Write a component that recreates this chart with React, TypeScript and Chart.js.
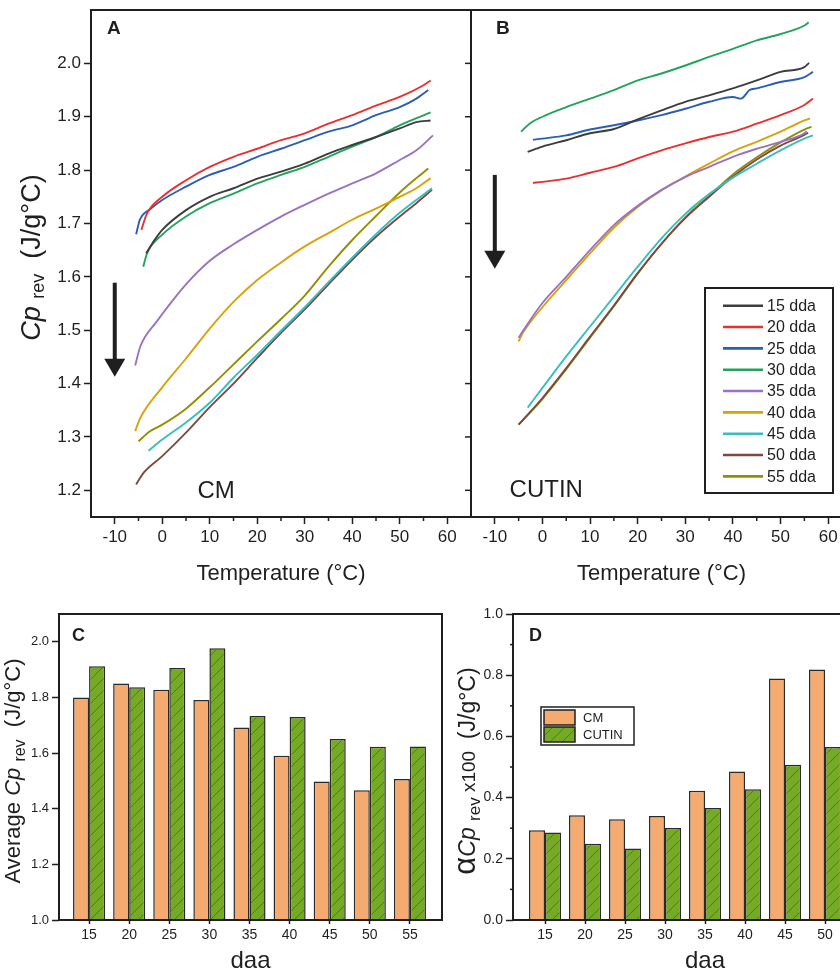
import React, { useEffect, useRef } from 'react';
import { Chart, registerables } from 'chart.js';

Chart.register(...registerables);

const INK = '#1f1f1f';
const FONT = '"Liberation Sans", Arial, Helvetica, sans-serif';

// ---------- Panels A / B : Cp_rev vs temperature ----------
const ddaLabels = ['15 dda', '20 dda', '25 dda', '30 dda', '35 dda', '40 dda', '45 dda', '50 dda', '55 dda'];
const lineColors = ['#3d3d3d', '#e8312f', '#2b5fb4', '#23a35b', '#9a72c2', '#d9a10a', '#3bbdbd', '#7b4a42', '#8f8f0a'];

const tempTicks = [-10, 0, 10, 20, 30, 40, 50, 60];
const tempMinor = [-5, 5, 15, 25, 35, 45, 55];
const cpTicks = [1.2, 1.3, 1.4, 1.5, 1.6, 1.7, 1.8, 1.9, 2.0];
const T_MIN = -15, T_MAX = 65, CP_MIN = 1.15, CP_MAX = 2.1;

// CM curves: [temperature °C, Cp_rev J/g°C]
const cm15 = [[-3.4, 1.644], [-2, 1.664], [0, 1.688], [5, 1.725], [10, 1.750], [15, 1.766], [20, 1.784], [25, 1.797], [30, 1.812], [35, 1.831], [40, 1.847], [45, 1.862], [50, 1.878], [53.5, 1.890], [56.5, 1.893]];
const cm20 = [[-4.4, 1.688], [-3.2, 1.719], [0, 1.750], [5, 1.781], [10, 1.806], [15, 1.825], [20, 1.840], [25, 1.856], [30, 1.869], [35, 1.887], [40, 1.903], [45, 1.921], [50, 1.937], [55, 1.959], [56.5, 1.968]];
const cm25 = [[-5.5, 1.680], [-4.7, 1.707], [-2.5, 1.727], [0, 1.744], [5, 1.769], [10, 1.791], [15, 1.806], [20, 1.825], [25, 1.840], [30, 1.856], [35, 1.872], [40, 1.884], [45, 1.903], [50, 1.918], [53.5, 1.934], [56, 1.950]];
const cm30 = [[-4, 1.619], [-3.2, 1.644], [0, 1.679], [5, 1.713], [10, 1.738], [15, 1.756], [20, 1.775], [25, 1.791], [30, 1.806], [35, 1.825], [40, 1.844], [45, 1.862], [50, 1.884], [56.5, 1.908]];
const cm35 = [[-5.7, 1.434], [-4.6, 1.470], [-1.1, 1.517], [2.3, 1.557], [5, 1.586], [10, 1.630], [15, 1.661], [20, 1.688], [25, 1.713], [30, 1.735], [35, 1.756], [40, 1.775], [45, 1.794], [50, 1.819], [53.5, 1.837], [57, 1.865]];
const cm40 = [[-5.7, 1.311], [-4.6, 1.336], [0, 1.393], [5, 1.447], [10, 1.503], [15, 1.553], [20, 1.594], [25, 1.627], [30, 1.657], [35, 1.682], [40, 1.707], [45, 1.728], [50, 1.750], [53.5, 1.766], [56.5, 1.785]];
const cm45 = [[-2.9, 1.274], [0, 1.295], [5, 1.327], [10, 1.364], [15, 1.411], [20, 1.454], [25, 1.499], [30, 1.543], [35, 1.590], [40, 1.636], [45, 1.680], [50, 1.720], [56.8, 1.766]];
const cm50 = [[-5.5, 1.211], [-3.9, 1.233], [0, 1.264], [5, 1.308], [10, 1.356], [15, 1.400], [20, 1.448], [25, 1.495], [30, 1.539], [35, 1.586], [40, 1.632], [45, 1.675], [50, 1.713], [53.5, 1.738], [56.8, 1.763]];
const cm55 = [[-5, 1.292], [-2.5, 1.311], [0, 1.323], [5, 1.353], [10, 1.393], [15, 1.436], [20, 1.479], [25, 1.521], [30, 1.565], [35, 1.619], [40, 1.669], [45, 1.714], [50, 1.758], [53.5, 1.785], [56, 1.803]];

// CUTIN curves
const cu15 = [[-3.1, 1.834], [0, 1.844], [5, 1.856], [10, 1.869], [15, 1.877], [20, 1.895], [25, 1.912], [30, 1.928], [35, 1.940], [40, 1.953], [45, 1.968], [50, 1.984], [55, 1.993], [56, 2.001]];
const cu20 = [[-2, 1.776], [0, 1.778], [5, 1.784], [10, 1.795], [15, 1.806], [20, 1.822], [25, 1.837], [30, 1.850], [35, 1.862], [40, 1.872], [45, 1.887], [50, 1.903], [55, 1.922], [56.8, 1.934]];
const cu25 = [[-2, 1.857], [0, 1.859], [5, 1.865], [10, 1.876], [15, 1.884], [20, 1.893], [25, 1.903], [30, 1.915], [35, 1.928], [40, 1.937], [41.7, 1.934], [43.5, 1.950], [45, 1.953], [50, 1.965], [55, 1.974], [56.8, 1.984]];
const cu30 = [[-4.5, 1.872], [-2.7, 1.887], [0, 1.900], [5, 1.918], [10, 1.934], [15, 1.950], [20, 1.968], [25, 1.981], [30, 1.996], [35, 2.012], [40, 2.027], [45, 2.043], [50, 2.055], [55, 2.071], [55.9, 2.077]];
const cu35 = [[-5, 1.486], [-4, 1.500], [0, 1.551], [5, 1.600], [10, 1.650], [15, 1.697], [20, 1.733], [25, 1.763], [30, 1.787], [35, 1.806], [40, 1.825], [45, 1.840], [50, 1.853], [55, 1.869], [55.5, 1.873]];
const cu40 = [[-5, 1.479], [-4.1, 1.495], [0, 1.543], [5, 1.594], [10, 1.644], [15, 1.692], [20, 1.731], [25, 1.762], [30, 1.788], [35, 1.812], [40, 1.835], [45, 1.853], [50, 1.872], [55, 1.893], [56.2, 1.897]];
const cu45 = [[-3.1, 1.355], [0, 1.392], [5, 1.451], [10, 1.507], [15, 1.563], [20, 1.619], [25, 1.672], [30, 1.718], [35, 1.755], [40, 1.786], [45, 1.812], [50, 1.837], [55, 1.859], [56.8, 1.865]];
const cu50 = [[-5, 1.323], [0, 1.373], [5, 1.429], [10, 1.488], [15, 1.546], [20, 1.607], [25, 1.662], [30, 1.710], [35, 1.750], [40, 1.788], [45, 1.820], [50, 1.846], [55, 1.866], [55.8, 1.870]];
const cu55 = [[-5, 1.323], [0, 1.371], [5, 1.427], [10, 1.486], [15, 1.545], [20, 1.606], [25, 1.662], [30, 1.712], [35, 1.752], [40, 1.792], [45, 1.824], [50, 1.852], [55, 1.876], [56.5, 1.881]];

const cmCurves = [cm15, cm20, cm25, cm30, cm35, cm40, cm45, cm50, cm55];
const cutinCurves = [cu15, cu20, cu25, cu30, cu35, cu40, cu45, cu50, cu55];

// ---------- Panels C / D : bars ----------
const daa = [15, 20, 25, 30, 35, 40, 45, 50, 55];
const avgCM = [1.800, 1.850, 1.828, 1.791, 1.692, 1.590, 1.498, 1.466, 1.507];
const avgCUTIN = [1.912, 1.837, 1.906, 1.977, 1.733, 1.730, 1.651, 1.623, 1.624];
const alphaCM = [0.293, 0.342, 0.329, 0.340, 0.422, 0.485, 0.789, 0.819];
const alphaCUTIN = [0.286, 0.249, 0.234, 0.301, 0.366, 0.427, 0.507, 0.565];
const avgTicks = [1.0, 1.2, 1.4, 1.6, 1.8, 2.0];
const alphaTicks = [0, 0.2, 0.4, 0.6, 0.8, 1.0];
const alphaMinor = [0.1, 0.3, 0.5, 0.7, 0.9];
const AVG_MIN = 1.0, AVG_MAX = 2.1, ALPHA_MIN = 0, ALPHA_MAX = 1.0;
const DAA_MIN_C = 11.25, DAA_MIN_D = 11, DAA_MAX = 59;

const CM_COLOR = '#f5aa70';
const CUTIN_COLOR = '#74aa25';
const HATCH_COLOR = '#4c7f16';

function fontStr(size: number, style = 'normal', weight = 'normal') {
  return `${style} ${weight} ${size}px ${FONT}`;
}

function makeHatch(): any {
  const step = 12;
  const c = document.createElement('canvas');
  c.width = step; c.height = step;
  const g = c.getContext('2d')!;
  g.fillStyle = CUTIN_COLOR; g.fillRect(0, 0, step, step);
  g.strokeStyle = HATCH_COLOR; g.lineWidth = 1;
  g.beginPath();
  g.moveTo(0, step); g.lineTo(step, 0);
  g.moveTo(-2, 2); g.lineTo(2, -2);
  g.moveTo(step - 2, step + 2); g.lineTo(step + 2, step - 2);
  g.stroke();
  return g.createPattern(c, 'repeat');
}

const decorPlugin = {
  id: 'decor',
  afterDraw(chart: any, _args: any, o: any) {
    const ctx = chart.ctx as CanvasRenderingContext2D;
    const a = chart.chartArea;
    const xs = chart.scales.x, ys = chart.scales.y;
    ctx.save();
    ctx.strokeStyle = INK; ctx.fillStyle = INK;
    const seg = (x1: number, y1: number, x2: number, y2: number, w: number) => {
      ctx.lineWidth = w; ctx.beginPath(); ctx.moveTo(x1, y1); ctx.lineTo(x2, y2); ctx.stroke();
    };
    (o.minorX || []).forEach((v: number) => {
      const p = xs.getPixelForValue(v); seg(p, a.bottom, p, a.bottom + o.minorLen, 1.5);
    });
    (o.minorY || []).forEach((v: number) => {
      const p = ys.getPixelForValue(v); seg(a.left - o.minorLen, p, a.left, p, 1.5);
    });
    (o.mirrorY || []).forEach((v: number) => {
      const p = ys.getPixelForValue(v); seg(a.right - o.mirrorLen, p, a.right, p, 1.5);
    });
    ctx.strokeStyle = INK;
    ctx.lineWidth = o.frameWidth;
    ctx.strokeRect(a.left, a.top, a.right - a.left, a.bottom - a.top);

    (o.arrows || []).forEach((ar: any) => {
      const x = xs.getPixelForValue(ar.x);
      const y1 = ys.getPixelForValue(ar.from);
      const y2 = ys.getPixelForValue(ar.to);
      seg(x, y1, x, y2 - ar.headLen + 1, ar.shaft);
      ctx.beginPath();
      ctx.moveTo(x - ar.headWidth / 2, y2 - ar.headLen);
      ctx.lineTo(x + ar.headWidth / 2, y2 - ar.headLen);
      ctx.lineTo(x, y2);
      ctx.closePath(); ctx.fill();
    });

    ctx.textAlign = 'left'; ctx.textBaseline = 'alphabetic';
    (o.notes || []).forEach((n: any) => {
      ctx.font = fontStr(n.size);
      ctx.fillText(n.text, xs.getPixelForValue(n.x), ys.getPixelForValue(n.y));
    });
    if (o.panel) {
      ctx.font = fontStr(o.panel.size, 'normal', 'bold');
      ctx.fillText(o.panel.text, a.left + o.panel.dx, a.top + o.panel.dy);
    }

    if (o.yTitle) {
      const t = o.yTitle;
      ctx.save();
      ctx.translate(a.left - t.offset, (a.top + a.bottom) / 2 + t.shift);
      ctx.rotate(-Math.PI / 2);
      let total = 0;
      const widths = t.segs.map((s: any) => {
        ctx.font = fontStr(s.size, s.style || 'normal');
        const w = ctx.measureText(s.text).width; total += w; return w;
      });
      let x = -total / 2;
      t.segs.forEach((s: any, i: number) => {
        ctx.font = fontStr(s.size, s.style || 'normal');
        ctx.fillText(s.text, x, s.dy || 0);
        x += widths[i];
      });
      ctx.restore();
    }

    if (o.lineLegend) {
      const L = o.lineLegend;
      const bx = a.left + L.dx, by = a.top + L.dy;
      ctx.fillStyle = '#ffffff'; ctx.fillRect(bx, by, L.w, L.h);
      ctx.strokeStyle = INK; ctx.lineWidth = 2; ctx.strokeRect(bx, by, L.w, L.h);
      ctx.font = fontStr(L.size); ctx.textBaseline = 'middle';
      chart.data.datasets.forEach((ds: any, i: number) => {
        const cy = by + L.first + i * L.row;
        ctx.strokeStyle = ds.borderColor;
        seg(bx + L.lineX1, cy, bx + L.lineX2, cy, 2.6);
        ctx.fillStyle = INK;
        ctx.fillText(ds.label, bx + L.textX, cy + 1);
      });
    }

    if (o.barLegend) {
      const L = o.barLegend;
      const bx = a.left + L.dx, by = a.top + L.dy;
      ctx.fillStyle = '#ffffff'; ctx.fillRect(bx, by, L.w, L.h);
      ctx.strokeStyle = INK; ctx.lineWidth = 1.5; ctx.strokeRect(bx, by, L.w, L.h);
      ctx.font = fontStr(L.size); ctx.textBaseline = 'middle';
      chart.data.datasets.forEach((ds: any, i: number) => {
        const top = by + L.first + i * L.row;
        ctx.fillStyle = ds.backgroundColor;
        ctx.fillRect(bx + L.swX, top, L.swW, L.swH);
        ctx.strokeStyle = INK; ctx.lineWidth = 1.5;
        ctx.strokeRect(bx + L.swX, top, L.swW, L.swH);
        ctx.fillStyle = INK;
        ctx.fillText(ds.label, bx + L.textX, top + L.swH / 2 + 1);
      });
    }
    ctx.restore();
  },
};

function tickAxis(size: number, tickLength: number, padding: number) {
  return {
    ticks: { font: { family: FONT, size }, color: INK, padding, maxRotation: 0, autoSkip: false },
    grid: { drawOnChartArea: false, drawTicks: true, tickLength, tickWidth: 1.5, tickColor: INK },
    border: { display: false },
  };
}

const fixY = (w: number) => (s: any) => { s.width = w; s.paddingTop = 0; s.paddingBottom = 0; };
const fixX = (h: number) => (s: any) => { s.height = h; s.paddingLeft = 0; s.paddingRight = 0; };

function lineConfig(curves: number[][][], opts: any) {
  return {
    type: 'line',
    data: {
      datasets: curves.map((pts, i) => ({
        label: ddaLabels[i],
        data: pts.map(([x, y]) => ({ x, y })),
        borderColor: lineColors[i],
        borderWidth: 1.9,
        pointRadius: 0,
        fill: false,
        cubicInterpolationMode: 'monotone',
      })),
    },
    options: {
      responsive: false,
      animation: false,
      events: [],
      layout: { padding: { top: 10, right: 9, left: opts.padLeft, bottom: 0 } },
      plugins: { legend: { display: false }, tooltip: { enabled: false }, decor: opts.decor },
      scales: {
        x: {
          type: 'linear', min: T_MIN, max: T_MAX,
          ...tickAxis(17, 7, 3),
          afterBuildTicks: (s: any) => { s.ticks = tempTicks.map((v) => ({ value: v })); },
          afterFit: fixX(83),
          title: { display: true, text: 'Temperature (°C)', color: INK, font: { family: FONT, size: 22 }, padding: { top: 0, bottom: 13 } },
        },
        y: {
          type: 'linear', min: CP_MIN, max: CP_MAX, display: opts.showY,
          ...tickAxis(17, 7, 3),
          afterBuildTicks: (s: any) => { s.ticks = cpTicks.map((v) => ({ value: v })); },
          afterFit: fixY(opts.showY ? 91 : 0),
          ticks: { font: { family: FONT, size: 17 }, color: INK, padding: 3, callback: (v: any) => Number(v).toFixed(1) },
        },
      },
    },
    plugins: [decorPlugin],
  };
}

function barConfig(cm: number[], cutin: number[], hatch: any, opts: any) {
  const ds = (label: string, vals: number[], bg: any) => ({
    label,
    data: vals.map((v, i) => ({ x: daa[i], y: v })),
    backgroundColor: bg,
    borderColor: '#2a2a2a',
    borderWidth: 1.5,
    base: opts.yMin,
    categoryPercentage: 0.8,
    barPercentage: 1.0,
  });
  return {
    type: 'bar',
    data: { datasets: [ds('CM', cm, CM_COLOR), ds('CUTIN', cutin, hatch)] },
    options: {
      responsive: false,
      animation: false,
      events: [],
      layout: { padding: { top: 24, right: opts.padRight, left: 0, bottom: 0 } },
      plugins: { legend: { display: false }, tooltip: { enabled: false }, decor: opts.decor },
      scales: {
        x: {
          type: 'linear', min: opts.xMin, max: DAA_MAX, offset: false,
          ...tickAxis(14, 4, 3),
          grid: { drawOnChartArea: false, drawTicks: true, tickLength: 4, tickWidth: 1.5, tickColor: INK, offset: false },
          afterBuildTicks: (s: any) => { s.ticks = daa.map((v) => ({ value: v })); },
          afterFit: fixX(53),
          title: { display: true, text: 'daa', color: INK, font: { family: FONT, size: 24, lineHeight: 1 }, padding: { top: 0, bottom: 0 } },
        },
        y: {
          type: 'linear', min: opts.yMin, max: opts.yMax,
          ...tickAxis(opts.yFont, 7, 3),
          ticks: { font: { family: FONT, size: opts.yFont }, color: INK, padding: 3, callback: (v: any) => Number(v).toFixed(1) },
          afterBuildTicks: (s: any) => { s.ticks = opts.yTicks.map((v: number) => ({ value: v })); },
          afterFit: fixY(opts.yWidth),
        },
      },
    },
    plugins: [decorPlugin],
  };
}

const cpTitle = [
  { text: 'Cp', size: 27, style: 'italic' },
  { text: ' ', size: 27 },
  { text: 'rev', size: 18, dy: 4 },
  { text: '  (J/g°C)', size: 27 },
];

export default function App() {
  const refA = useRef<HTMLCanvasElement>(null);
  const refB = useRef<HTMLCanvasElement>(null);
  const refC = useRef<HTMLCanvasElement>(null);
  const refD = useRef<HTMLCanvasElement>(null);

  useEffect(() => {
    const hatch = makeHatch();
    const charts: Chart[] = [];
    charts.push(new Chart(refA.current!, lineConfig(cmCurves, {
      showY: true, padLeft: 0,
      decor: {
        frameWidth: 2, minorX: tempMinor, minorLen: 4, mirrorY: cpTicks, mirrorLen: 6,
        arrows: [{ x: -10, from: 1.589, to: 1.413, headLen: 18, headWidth: 21, shaft: 4 }],
        notes: [{ text: 'CM', x: 7.4, y: 1.185, size: 24 }],
        panel: { text: 'A', dx: 16, dy: 24, size: 19 },
        yTitle: { offset: 51, shift: -6, segs: cpTitle },
      },
    }) as any));
    charts.push(new Chart(refB.current!, lineConfig(cutinCurves, {
      showY: false, padLeft: 10,
      decor: {
        frameWidth: 2, minorX: tempMinor, minorLen: 4,
        arrows: [{ x: -10, from: 1.791, to: 1.615, headLen: 18, headWidth: 21, shaft: 4 }],
        notes: [{ text: 'CUTIN', x: -6.9, y: 1.187, size: 24 }],
        panel: { text: 'B', dx: 25, dy: 24, size: 19 },
        lineLegend: { dx: 234, dy: 278, w: 128, h: 205, first: 17.7, row: 21.33, lineX1: 18, lineX2: 58, textX: 62, size: 16 },
      },
    }) as any));
    charts.push(new Chart(refC.current!, barConfig(avgCM, avgCUTIN, hatch, {
      yMin: AVG_MIN, yMax: AVG_MAX, yTicks: avgTicks, yFont: 13, yWidth: 59, xMin: DAA_MIN_C, padRight: 18,
      decor: {
        frameWidth: 2,
        panel: { text: 'C', dx: 13, dy: 27, size: 18 },
        yTitle: {
          offset: 39, shift: 4, segs: [
            { text: 'Average ', size: 22 },
            { text: 'Cp', size: 22, style: 'italic' },
            { text: ' ', size: 22 },
            { text: 'rev', size: 16, dy: 5 },
            { text: '  (J/g°C)', size: 22 },
          ],
        },
      },
    }) as any));
    charts.push(new Chart(refD.current!, barConfig(alphaCM, alphaCUTIN, hatch, {
      yMin: ALPHA_MIN, yMax: ALPHA_MAX, yTicks: alphaTicks, yFont: 14, yWidth: 63, xMin: DAA_MIN_D, padRight: 13,
      decor: {
        frameWidth: 2, minorY: alphaMinor, minorLen: 3,
        panel: { text: 'D', dx: 16, dy: 27, size: 18 },
        barLegend: { dx: 28, dy: 93, w: 93, h: 38, first: 3, row: 17, swX: 3, swW: 31, swH: 15, textX: 42, size: 13 },
        yTitle: {
          offset: 38, shift: 4, segs: [
            { text: 'α', size: 31 },
            { text: 'Cp', size: 23, style: 'italic' },
            { text: ' ', size: 23 },
            { text: 'rev', size: 17, dy: 5 },
            { text: ' x100 ', size: 19 },
            { text: ' (J/g°C)', size: 23 },
          ],
        },
      },
    }) as any));
    return () => charts.forEach((c) => c.destroy());
  }, []);

  const pos = (left: number, top: number, w: number, h: number): React.CSSProperties => ({
    position: 'absolute', left, top, width: w, height: h,
  });

  return (
    <div style={{ position: 'fixed', left: 0, top: 0, width: 840, height: 973, overflow: 'hidden', background: '#ffffff' }}>
      <canvas ref={refA} width={480} height={600} style={pos(0, 0, 480, 600)} />
      <canvas ref={refB} width={400} height={600} style={pos(461, 0, 400, 600)} />
      <canvas ref={refC} width={460} height={383} style={pos(0, 590, 460, 383)} />
      <canvas ref={refD} width={460} height={383} style={pos(450, 590, 460, 383)} />
    </div>
  );
}
